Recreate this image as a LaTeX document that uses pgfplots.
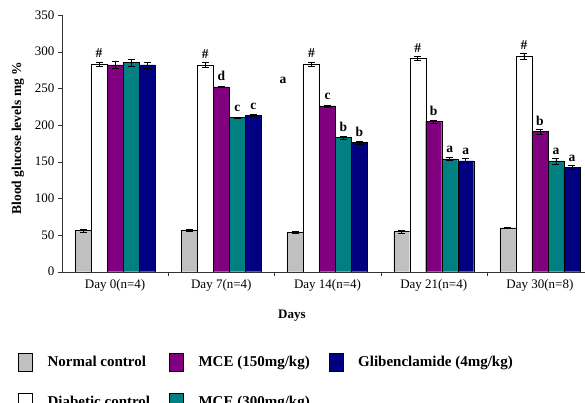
\documentclass[border=0pt]{standalone}
\usepackage{fontspec}
\setmainfont{Liberation Serif}
\usepackage{pgfplots}
\usepackage{pgfplotstable}
\pgfplotsset{compat=1.18}

\definecolor{ncgray}{RGB}{192,192,192}
\definecolor{mcepurple}{RGB}{128,0,128}
\definecolor{mceteal}{RGB}{0,128,128}
\definecolor{glibnavy}{RGB}{0,0,128}

% x = day index, y = glucose (mg %), e = error, l = label above bar
\pgfplotstableread{
x y e l
0 56 2 {}
1 57 1.5 {}
2 54 1 {}
3 55 2 {}
4 60 1 {}
}\normal
\pgfplotstableread{
x y e l
0 283 3 \#
1 282 3 \#
2 283 3 \#
3 291 3 \#
4 294 4 \#
}\diabetic
\pgfplotstableread{
x y e l
0 282 5 {}
1 252 1 d
2 226 1.5 c
3 205 2 b
4 191 3 b
}\mcelow
\pgfplotstableread{
x y e l
0 285 5 {}
1 210 1 c
2 183 2 b
3 154 2 a
4 151 4 a
}\mcehigh
\pgfplotstableread{
x y e l
0 282 4 {}
1 213 1 c
2 176 2 b
3 151 3 a
4 142 3 a
}\glib

\begin{document}
\begin{tikzpicture}
\useasboundingbox (-62pt,-131pt) rectangle (523pt,271.7pt);
\begin{axis}[
  at={(0pt,0pt)}, anchor=south west,
  scale only axis, width=531pt, height=256.7pt,
  ybar, bar width=16pt,
  xmin=-0.5, xmax=4.5, ymin=0, ymax=350,
  axis lines*=left,
  axis line style={black!80},
  tick align=outside,
  ytick={0,50,...,350},
  xtick={0,...,4},
  xticklabels={Day 0(n=4), Day 7(n=4), Day 14(n=4), Day 21(n=4), Day 30(n=8)},
  major x tick style={draw=none},
  extra x ticks={0.5,1.5,2.5,3.5,4.5},
  extra x tick labels={},
  extra x tick style={major tick length=4pt, major x tick style={draw=black!80}},
  major tick length=4pt,
  tick style={black!80},
  ticklabel style={font=\fontsize{13}{15}\selectfont},
  /pgf/number format/assume math mode=true,
  ylabel={\textbf{Blood glucose levels mg \%}},
  ylabel style={font=\fontsize{13.5}{15}\selectfont, at={(axis description cs:-0.083,0.52)}, anchor=center},
  xlabel={\textbf{Days}},
  xlabel style={font=\fontsize{13}{15}\selectfont, at={(axis description cs:0.433,-0.17)}, anchor=center},
  error bars/y dir=both, error bars/y explicit,
  error bars/error bar style={black, line width=0.6pt},
  error bars/error mark options={rotate=90, mark size=3.5pt, black, line width=0.6pt},
  nodes near coords,
  point meta=explicit symbolic,
  every node near coord/.append style={font=\fontsize{13.5}{15}\selectfont\bfseries, anchor=south, inner sep=0pt, yshift=6pt},
  legend columns=3,
  legend cell align=left,
  legend image code/.code={\draw[#1,draw=black] (0pt,-9pt) rectangle (14pt,9pt);},
  legend style={draw=none, fill=none, inner sep=0pt, at={(-0.083,-0.315)}, anchor=north west,
    font=\fontsize{15}{17}\selectfont\bfseries, row sep=22pt,
    /tikz/every even column/.append style={column sep=17pt},
    /tikz/every odd column/.append style={column sep=13pt}},
]
\addplot[fill=ncgray, draw=black, bar shift=-32pt, forget plot] table[x=x, y=y, y error=e, meta=l] {\normal};
\addplot[fill=white, draw=black, bar shift=-16pt, forget plot] table[x=x, y=y, y error=e, meta=l] {\diabetic};
\addplot[fill=mcepurple, draw=black, bar shift=0pt, forget plot] table[x=x, y=y, y error=e, meta=l] {\mcelow};
\addplot[fill=mceteal, draw=black, bar shift=16pt, forget plot] table[x=x, y=y, y error=e, meta=l] {\mcehigh};
\addplot[fill=glibnavy, draw=black, bar shift=32pt, forget plot] table[x=x, y=y, y error=e, meta=l] {\glib};

\addlegendimage{fill=ncgray}
\addlegendentry{Normal control}
\addlegendimage{fill=mcepurple}
\addlegendentry{MCE (150mg/kg)}
\addlegendimage{fill=glibnavy}
\addlegendentry{Glibenclamide (4mg/kg)}
\addlegendimage{fill=white}
\addlegendentry{Diabetic control}
\addlegendimage{fill=mceteal}
\addlegendentry{MCE (300mg/kg)}

\node[font=\fontsize{13.5}{15}\selectfont\bfseries] at (axis cs:1.58,261) {a};
\end{axis}
\end{tikzpicture}
\end{document}
